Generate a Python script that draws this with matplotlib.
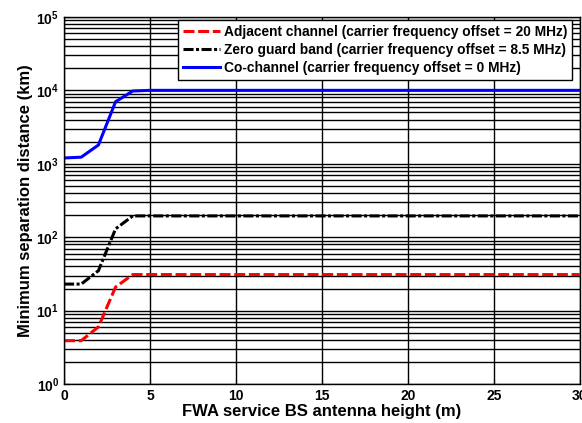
import matplotlib.pyplot as plt
from matplotlib.ticker import LogLocator, NullFormatter

plt.rcParams['font.family'] = ['Liberation Sans', 'DejaVu Sans']
plt.rcParams['font.weight'] = 'bold'

# antenna height (m)
height = [0, 1, 2, 3, 4, 5, 30]
# minimum separation distance (km)
adjacent = [3.9, 3.9, 6.0, 21, 31, 31, 31]
zero_guard = [23, 23, 35, 130, 195, 195, 195]
co_channel = [1200, 1230, 1800, 7000, 9800, 10000, 10000]

labels = ['Adjacent channel (carrier frequency offset = 20 MHz)',
          'Zero guard band (carrier frequency offset = 8.5 MHz)',
          'Co-channel (carrier frequency offset = 0 MHz)']

fig = plt.figure(figsize=(5.82, 4.23), dpi=100)
ax = fig.add_axes([0.110, 0.092, 0.886, 0.868])

ax.plot(height, adjacent, color='red', linestyle=(0, (3.6, 1.2)), linewidth=2.2, label=labels[0])
ax.plot(height, zero_guard, color='black', linestyle=(0, (3.3, 0.8, 1.0, 0.8)), linewidth=2.2,
        label=labels[1])
ax.plot(height, co_channel, color='blue', linestyle='-', linewidth=2.2, label=labels[2])

ax.set_yscale('log')
ax.set_xlim(0, 30)
ax.set_ylim(1, 1e5)
ax.set_xticks([0, 5, 10, 15, 20, 25, 30])
ax.yaxis.set_major_locator(LogLocator(base=10, numticks=10))
ax.yaxis.set_minor_locator(LogLocator(base=10, subs=range(2, 10), numticks=10))
ax.yaxis.set_minor_formatter(NullFormatter())
ax.grid(True, which='major', color='black', linewidth=1.0)
ax.grid(True, which='minor', axis='y', color='black', linewidth=1.0)
ax.tick_params(which='both', direction='in', labelsize=10)
for s in ax.spines.values():
    s.set_linewidth(1.0)

ax.set_xlabel('FWA service BS antenna height (m)', fontsize=12, fontweight='bold', labelpad=1)
ax.set_ylabel('Minimum separation distance (km)', fontsize=12, fontweight='bold', labelpad=2)

leg = ax.legend(loc='upper right', bbox_to_anchor=(0.985, 0.992), borderaxespad=0,
                fontsize=9.9, handlelength=2.7, handletextpad=0.25,
                fancybox=False, framealpha=1, edgecolor='black',
                borderpad=0.35, labelspacing=0.3)
leg.get_frame().set_linewidth(1.0)

fig.savefig('out.png', dpi=100)
plt.close(fig)
